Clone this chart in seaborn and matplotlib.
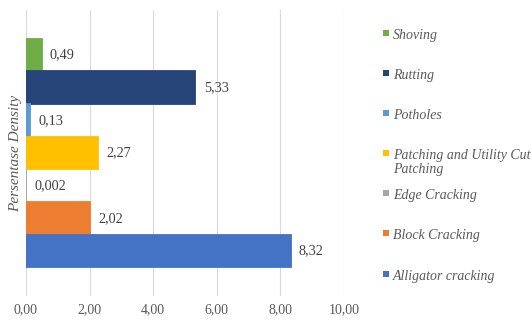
import matplotlib
matplotlib.use("Agg")
import matplotlib.pyplot as plt
from matplotlib.patches import Rectangle
import seaborn as sns
import pandas as pd

# Distress types (top to bottom) and their density percentages
distress_types = [
    "Shoving",
    "Rutting",
    "Potholes",
    "Patching and Utility Cut\nPatching",
    "Edge Cracking",
    "Block Cracking",
    "Alligator cracking",
]
density_values = [0.49, 5.33, 0.13, 2.27, 0.002, 2.02, 8.32]
density_labels = ["0,49", "5,33", "0,13", "2,27", "0,002", "2,02", "8,32"]
bar_colors = ["#70AD47", "#264478", "#5B9BD5", "#FFC000", "#A5A5A5", "#ED7D31", "#4472C4"]
x_ticks = [0, 2, 4, 6, 8, 10]
x_tick_labels = ["0,00", "2,00", "4,00", "6,00", "8,00", "10,00"]

df = pd.DataFrame({
    "group": [""] * len(distress_types),
    "type": distress_types,
    "value": density_values,
})

sns.set_theme(style="white")
plt.rcParams["font.family"] = ["Liberation Serif", "DejaVu Serif"]

text_gray = "#595959"
fig = plt.figure(figsize=(5.32, 3.22), dpi=100)
ax = fig.add_axes([26 / 532, 1 - 296 / 322, (344 - 26) / 532, (296 - 10) / 322])

sns.barplot(
    data=df, x="value", y="group", hue="type", hue_order=distress_types,
    palette=bar_colors, orient="h", width=0.8, legend=False, ax=ax,
    saturation=1,
)

for container, color in zip(ax.containers, bar_colors):
    for patch in container:
        patch.set_edgecolor(color)
        patch.set_linewidth(1.3)
        patch.set_zorder(3)

for container, label in zip(ax.containers, density_labels):
    ax.bar_label(container, labels=[label], padding=6, fontsize=10.2, color="#404040")

ax.set_xlim(0, 10)
ax.set_xticks(x_ticks)
ax.set_xticklabels(x_tick_labels, fontsize=10, color=text_gray)
ax.set_yticks([])
ax.set_xlabel("")
ax.set_ylabel("Persentase Density", fontsize=11, color=text_gray, fontstyle="italic", labelpad=3)
ax.tick_params(axis="x", length=0, pad=5)
ax.grid(axis="x", color="#d9d9d9", linewidth=0.8)
ax.set_axisbelow(True)
for spine in ax.spines.values():
    spine.set_visible(False)

# Legend on the right, one entry per distress type
legend_y = [33, 73, 113, 153, 193, 233, 274]
for name, color, y in zip(distress_types, bar_colors, legend_y):
    fig.patches.append(Rectangle((383 / 532, 1 - (y + 3) / 322), 6 / 532, 6 / 322,
                                 transform=fig.transFigure, facecolor=color, edgecolor="none"))
    fig.text(393 / 532, 1 - (y - 4) / 322, name, fontsize=10, fontstyle="italic",
             color=text_gray, va="top", ha="left", linespacing=1.15)

fig.savefig("out.png", dpi=100)
